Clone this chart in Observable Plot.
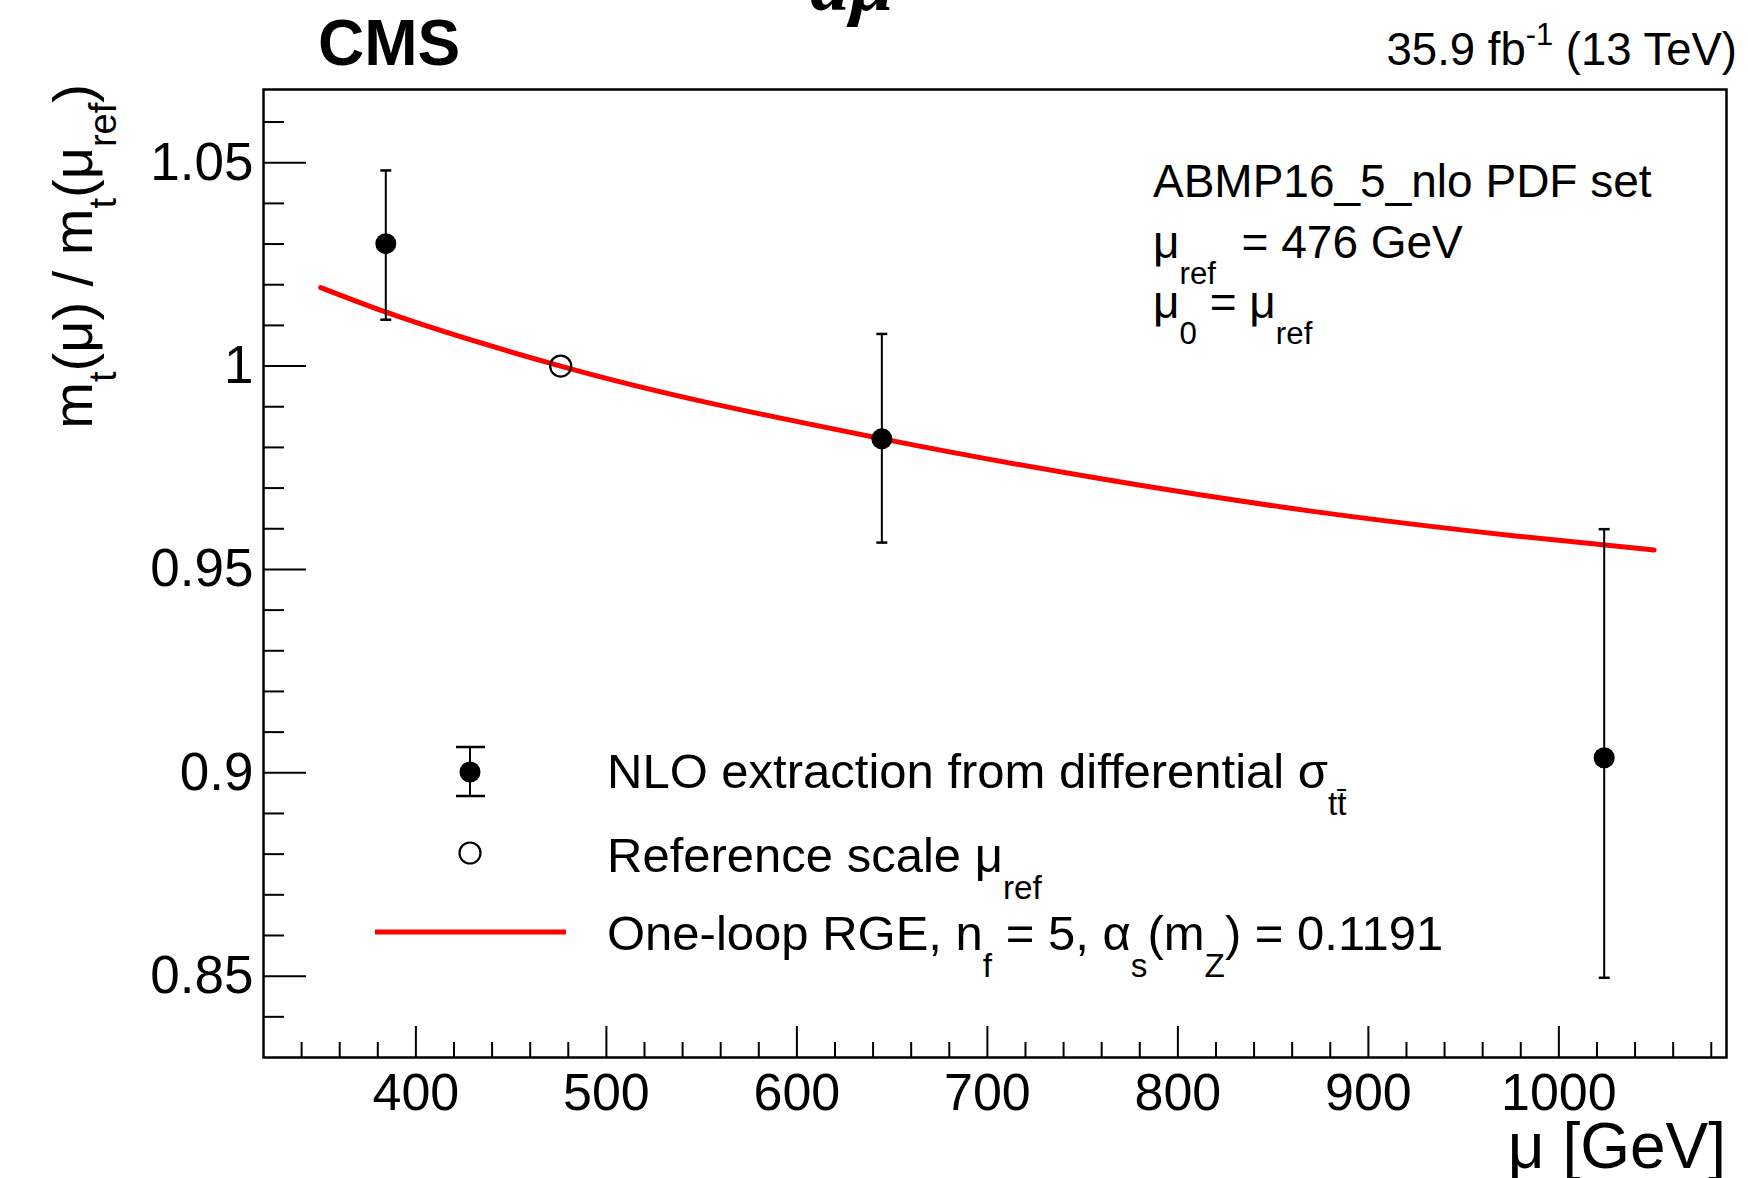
<!DOCTYPE html>
<html><head><meta charset="utf-8">
<script src="https://cdn.jsdelivr.net/npm/d3@7"></script>
<script src="https://cdn.jsdelivr.net/npm/@observablehq/plot@0.6"></script>
<style>html,body{margin:0;padding:0;background:#fff;overflow:hidden}</style>
</head><body><div id="chart"></div>
<script>
// ---- data ----
const extractionMu    = [384.2, 644.6, 1023.8];
const extractionRatio = [1.0301, 0.9821, 0.9037];
const extractionUp    = [1.0481, 1.0079, 0.9599];
const extractionDown  = [1.0114, 0.9566, 0.8496];
const referenceMu     = [476];
const referenceRatio  = [1.0];
const rgeMu    = [350, 384, 476, 645, 762, 869, 976, 1050];
const rgeRatio = [1.0193, 1.0133, 1.0000, 0.9821, 0.9721, 0.9644, 0.9583, 0.9548];
const xMajorTicks = [400, 500, 600, 700, 800, 900, 1000];
const xTickLabels = ["400", "500", "600", "700", "800", "900", "1000"];
const yMajorTicks = [0.85, 0.9, 0.95, 1, 1.05];
const yTickLabels = ["0.85", "0.9", "0.95", "1", "1.05"];
const xMinorTicks = d3.range(340, 1081, 20).filter(v => v % 100 !== 0);
const yMinorTicks = d3.range(84, 107).map(v => v / 100).filter(v => Math.round(v * 100) % 5 !== 0);

const extraction = extractionMu.map((m, i) => ({mu: m, r: extractionRatio[i], up: extractionUp[i], down: extractionDown[i]}));
const reference = referenceMu.map((m, i) => ({mu: m, r: referenceRatio[i]}));
const rge = rgeMu.map((m, i) => ({mu: m, r: rgeRatio[i]}));

const FONT = "'Liberation Sans', Arial, Helvetica, sans-serif";
const capSymbol = {draw(ctx, size) { const w = Math.sqrt(size); ctx.moveTo(-w / 2, 0); ctx.lineTo(w / 2, 0); }};

const W = 1748, H = 1178;
const chart = Plot.plot({
  width: W, height: H,
  marginLeft: 263, marginRight: 22, marginTop: 89, marginBottom: 121,
  style: {fontFamily: FONT, background: "white", color: "black"},
  x: {domain: [320, 1088]},
  y: {domain: [0.83, 1.068]},
  marks: [
    // inward ticks
    Plot.axisY(yMajorTicks, {tickSize: 43, dx: 43, tickFormat: () => "", label: null, strokeWidth: 2}),
    Plot.axisY(yMinorTicks, {tickSize: 21, dx: 21, tickFormat: () => "", label: null, strokeWidth: 2}),
    Plot.axisX(xMajorTicks, {tickSize: 31, dy: -31, tickFormat: () => "", label: null, strokeWidth: 2}),
    Plot.axisX(xMinorTicks, {tickSize: 15, dy: -15, tickFormat: () => "", label: null, strokeWidth: 2}),
    // tick labels
    Plot.axisY(yMajorTicks, {tickSize: 0, tickPadding: 10, fontSize: 53, label: null,
      tickFormat: d => yTickLabels[yMajorTicks.indexOf(d)]}),
    Plot.axisX(xMajorTicks, {tickSize: 0, tickPadding: 16, fontSize: 52, label: null,
      tickFormat: d => xTickLabels[xMajorTicks.indexOf(d)]}),
    Plot.frame({stroke: "black", strokeWidth: 2.5}),
    // curve
    Plot.line(rge, {x: "mu", y: "r", stroke: "#ff0000", strokeWidth: 5, curve: "monotone-x"}),
    // error bars
    Plot.ruleX(extraction, {x: "mu", y1: "down", y2: "up", stroke: "black", strokeWidth: 2}),
    Plot.dot(extraction, {x: "mu", y: "up", symbol: capSymbol, r: 6.2, stroke: "black", strokeWidth: 2.5, fill: "none"}),
    Plot.dot(extraction, {x: "mu", y: "down", symbol: capSymbol, r: 6.2, stroke: "black", strokeWidth: 2.5, fill: "none"}),
    Plot.dot(extraction, {x: "mu", y: "r", r: 10.5, fill: "black", stroke: "none"}),
    Plot.dot(reference, {x: "mu", y: "r", r: 10.5, fill: "none", stroke: "black", strokeWidth: 2.2})
  ]
});
document.getElementById("chart").appendChild(chart);

const svg = d3.select(chart);
function rich(x, y, size, parts, opts = {}) {
  const t = svg.append("text")
    .attr("x", x).attr("y", y)
    .attr("font-size", size)
    .attr("font-family", opts.family || FONT)
    .attr("font-weight", opts.weight || "normal")
    .attr("font-style", opts.style || "normal")
    .attr("text-anchor", opts.anchor || "start")
    .attr("fill", "black")
    .style("white-space", "pre");
  if (opts.transform) t.attr("transform", opts.transform);
  let shift = 0;
  for (const p of parts) {
    const [s, kind] = typeof p === "string" ? [p, null] : p;
    const target = kind === "sub" ? size * (opts.subShift || 0.56) : kind === "sup" ? -size * 0.45 : 0;
    const ts = t.append("tspan").attr("dy", target - shift).text(s);
    if (kind) ts.attr("font-size", size * 0.68);
    shift = target;
  }
  return t;
}

// header
rich(318, 65, 64, ["CMS"], {weight: "bold"});
rich(1737, 65, 45.5, ["35.9 fb", ["-1", "sup"], " (13 TeV)"], {anchor: "end"});
rich(810, 10, 80, ["dμ"], {family: "'Liberation Serif', 'DejaVu Serif', serif", weight: "bold", style: "italic"});

// axis titles
rich(0, 0, 56, ["m", ["t", "sub"], "(μ) / m", ["t", "sub"], "(μ", ["ref", "sub"], ")"],
  {anchor: "end", transform: "translate(92,84) rotate(-90)", subShift: 0.42});
rich(1726, 1168, 64, ["μ [GeV]"], {anchor: "end"});

// info text
rich(1153, 197, 46, ["ABMP16_5_nlo PDF set"]);
rich(1153, 258, 46, ["μ", ["ref", "sub"], "  = 476 GeV"]);
rich(1153, 318, 46, ["μ", ["0", "sub"], " = μ", ["ref", "sub"]]);

// legend
const lg = svg.append("g");
lg.append("line").attr("x1", 470).attr("x2", 470).attr("y1", 747).attr("y2", 796).attr("stroke", "black").attr("stroke-width", 2);
lg.append("line").attr("x1", 456).attr("x2", 485).attr("y1", 747).attr("y2", 747).attr("stroke", "black").attr("stroke-width", 2.5);
lg.append("line").attr("x1", 456).attr("x2", 485).attr("y1", 796).attr("y2", 796).attr("stroke", "black").attr("stroke-width", 2.5);
lg.append("circle").attr("cx", 470).attr("cy", 772).attr("r", 10.5).attr("fill", "black");
lg.append("circle").attr("cx", 470).attr("cy", 853).attr("r", 10.5).attr("fill", "none").attr("stroke", "black").attr("stroke-width", 2.2);
lg.append("line").attr("x1", 375).attr("x2", 566).attr("y1", 932).attr("y2", 932).attr("stroke", "#ff0000").attr("stroke-width", 5);
rich(607, 788, 49, ["NLO extraction from differential σ", ["tt\u0304", "sub"]]);
rich(607, 872, 49, ["Reference scale μ", ["ref", "sub"]]);
rich(607, 950, 49, ["One-loop RGE, n", ["f", "sub"], " = 5, α", ["s", "sub"], "(m", ["Z", "sub"], ") = 0.1191"]);
</script>
</body></html>
